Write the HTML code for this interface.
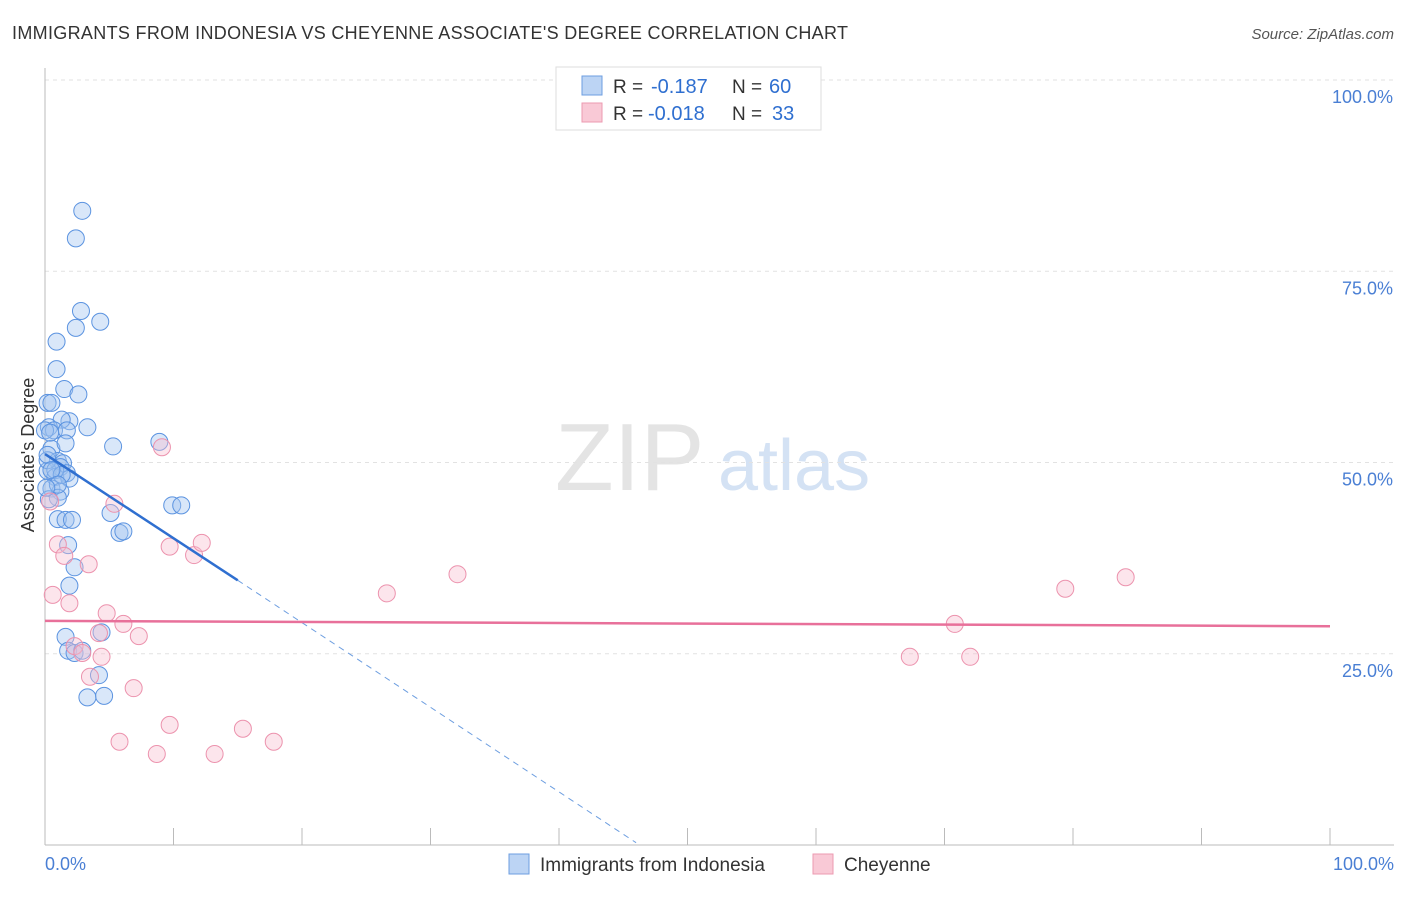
<!DOCTYPE html>
<html><head><meta charset="utf-8"><style>
body{margin:0;background:#fff;font-family:"Liberation Sans",sans-serif;}
svg text{font-family:"Liberation Sans",sans-serif;}
</style></head><body>
<svg id="c" width="1406" height="892">
<text x="12" y="39" font-size="18" fill="#333" textLength="836">IMMIGRANTS FROM INDONESIA VS CHEYENNE ASSOCIATE'S DEGREE CORRELATION CHART</text>
<text x="1394" y="39" font-size="15" fill="#555" font-style="italic" text-anchor="end">Source: ZipAtlas.com</text>
<text x="555" y="490" font-size="96" fill="#e4e4e4" font-family="Liberation Serif">ZIP</text>
<text x="718" y="490" font-size="72" fill="#d4e2f4">atlas</text>
<text transform="translate(34,455) rotate(-90)" font-size="18" fill="#333" text-anchor="middle">Associate's Degree</text>
<g id="grid"></g><g id="pts"></g><g id="lines"></g>
<g>
<rect x="556" y="67" width="265" height="63" fill="#fff" stroke="#ddd"/>
<rect x="582" y="76" width="20" height="19" fill="#bcd4f4" stroke="#6d9ee0"/>
<rect x="582" y="103" width="20" height="19" fill="#f9c9d6" stroke="#ec9ab0"/>
<text x="613" y="93" font-size="19" fill="#333">R =</text>
<text x="651" y="93" font-size="20" fill="#2f6fd0">-0.187</text>
<text x="732" y="93" font-size="19" fill="#333">N =</text>
<text x="769" y="93" font-size="20" fill="#2f6fd0">60</text>
<text x="613" y="120" font-size="19" fill="#333">R =</text>
<text x="648" y="120" font-size="20" fill="#2f6fd0">-0.018</text>
<text x="732" y="120" font-size="19" fill="#333">N =</text>
<text x="772" y="120" font-size="20" fill="#2f6fd0">33</text>
</g>
<g>
<rect x="509" y="854" width="20" height="20" fill="#bcd4f4" stroke="#6d9ee0"/>
<text x="540" y="871" font-size="19" fill="#333">Immigrants from Indonesia</text>
<rect x="813" y="854" width="20" height="20" fill="#f9c9d6" stroke="#ec9ab0"/>
<text x="844" y="871" font-size="19" fill="#333">Cheyenne</text>
</g>
<text x="45" y="870" font-size="18" fill="#4a7fd4">0.0%</text>
<text x="1394" y="870" font-size="18" fill="#4a7fd4" text-anchor="end">100.0%</text>
</svg>
<script>
const yTicks=[100,75,50,25];
const yTickLabels=["100.0%","75.0%","50.0%","25.0%"];
const blueX=[2.9,2.4,2.8,2.4,4.3,0.9,0.9,1.5,2.6,0.2,0.5,1.9,1.3,3.3,0.3,0.7,1.7,5.3,8.9,0.5,1,1.4,1.2,0.2,1.7,0.8,1.9,0.5,1.2,1,0.3,5.1,1,1.6,2.1,5.8,6.1,9.9,10.6,1.8,2.3,1.9,1.6,4.4,1.8,2.3,2.9,4.2,3.3,4.6,0.2,0.8,1.3,0,0.4,0.2,0.5,1,1.6,0.1];
const blueY=[82.9,79.3,69.8,67.6,68.4,65.8,62.2,59.6,58.9,57.8,57.8,55.4,55.6,54.6,54.6,54.2,54.2,52.1,52.7,51.8,50.2,49.9,49.4,48.9,48.6,48.1,47.9,46.6,46.2,45.4,45.2,43.4,42.6,42.5,42.5,40.8,41.0,44.4,44.4,39.2,36.3,33.9,27.2,27.8,25.4,25.1,25.4,22.2,19.3,19.5,50.3,49.0,48.4,54.2,53.9,51.0,49.0,47.1,52.5,46.7];
const pinkX=[9.1,5.4,0.4,1,1.5,3.4,0.6,1.9,4.8,9.7,11.6,12.2,6.1,7.3,4.2,2.3,2.9,4.4,3.5,6.9,9.7,5.8,8.7,15.4,13.2,17.8,26.6,32.1,67.3,70.8,72,79.4,84.1];
const pinkY=[52.0,44.6,44.9,39.3,37.8,36.7,32.7,31.6,30.3,39.0,37.9,39.5,28.9,27.3,27.7,26.0,25.1,24.6,22.0,20.5,15.7,13.5,11.9,15.2,11.9,13.5,32.9,35.4,24.6,28.9,24.6,33.5,35.0];
const blueLine=[[0,51.1],[15,34.6]], blueDash=[[15,34.6],[46,0.3]];
const pinkLine=[[0,29.3],[100,28.6]];
const X=v=>45+v*12.85, Y=v=>845-v*7.65;
const ns="http://www.w3.org/2000/svg";
function mk(t,a,p){const e=document.createElementNS(ns,t);for(const k in a)e.setAttribute(k,a[k]);p.appendChild(e);return e;}
const g=document.getElementById('grid');
yTicks.forEach((t,i)=>{
 const l=mk('line',{x1:45,x2:1394,y1:Y(t),y2:Y(t),stroke:'#e2e2e2','stroke-dasharray':'4,4'},g);
 
 
 const tx=mk('text',{x:1393,y:Y(t)+23,'font-size':18,fill:'#4a7fd4','text-anchor':'end'},g);
 tx.textContent=yTickLabels[i];
 
 
});
const ax=mk('line',{x1:45,x2:45,y1:68,y2:845,stroke:'#bbb'},g);


const bx=mk('line',{x1:45,x2:1394,y1:845,y2:845,stroke:'#bbb'},g);


for(let i=0;i<=10;i++){const t=mk('line',{x1:X(i*10),x2:X(i*10),y1:828,y2:845,stroke:'#bbb'},g);
 
 }
const p=document.getElementById('pts');
blueX.forEach((v,i)=>{const c=mk('circle',{cx:X(v),cy:Y(blueY[i]),r:8.5,fill:'rgba(160,195,240,0.4)',stroke:'#5b93e0','stroke-width':1},p);
 
 });
pinkX.forEach((v,i)=>{const c=mk('circle',{cx:X(v),cy:Y(pinkY[i]),r:8.5,fill:'rgba(248,190,208,0.4)',stroke:'#ec92ad','stroke-width':1},p);
 
 });
const L=document.getElementById('lines');
function ln(a,attrs,name){const e=mk('line',Object.assign({x1:X(a[0][0]),y1:Y(a[0][1]),x2:X(a[1][0]),y2:Y(a[1][1])},attrs),L);
 
 }
ln(blueLine,{stroke:'#2f6fd0','stroke-width':2.5},'indonesia-trend-line');
ln(blueDash,{stroke:'#6d9ee0','stroke-width':1,'stroke-dasharray':'6,5'},'indonesia-trend-extension');
ln(pinkLine,{stroke:'#e8709a','stroke-width':2.5},'cheyenne-trend-line');
</script>
</body></html>
